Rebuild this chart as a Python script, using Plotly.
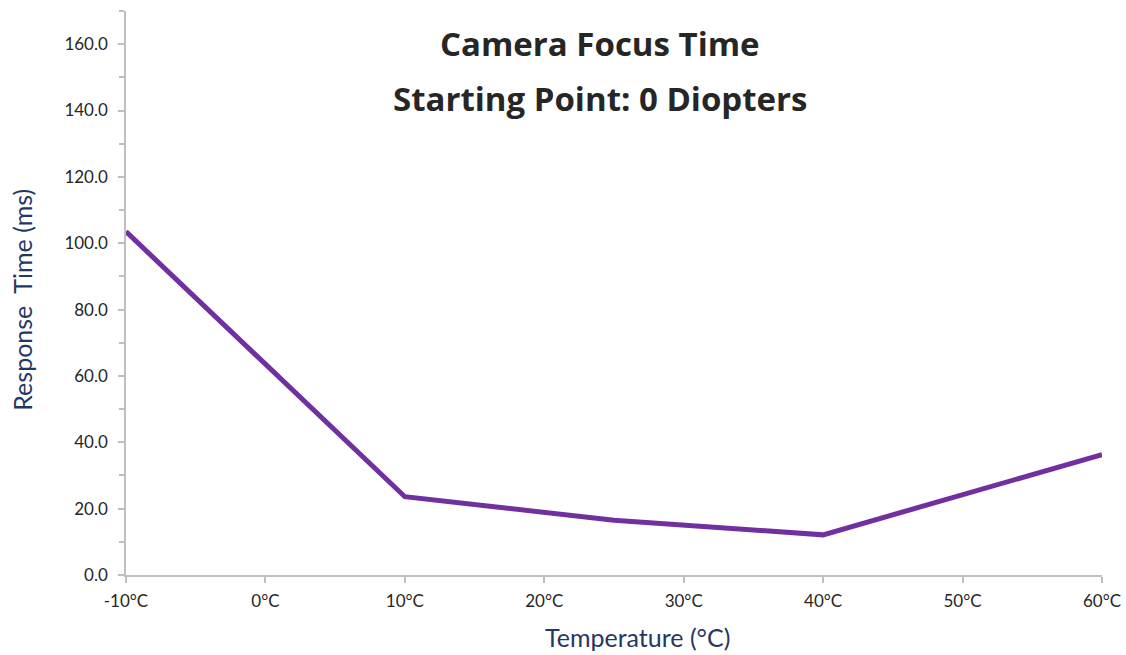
import plotly.graph_objects as go

temps = [-10, 10, 25, 40, 60]
response_ms = [103.5, 23.6, 16.5, 12.1, 36.3]
x_ticks = [-10, 0, 10, 20, 30, 40, 50, 60]
x_tick_labels = ["-10°C", "0°C", "10°C", "20°C", "30°C", "40°C", "50°C", "60°C"]
y_ticks = [0, 20, 40, 60, 80, 100, 120, 140, 160]
y_tick_labels = ["0.0", "20.0", "40.0", "60.0", "80.0", "100.0", "120.0", "140.0", "160.0"]

title_line1 = "<b>Camera Focus Time</b>"
title_line2 = "<b>Starting Point: 0 Diopters</b>"
x_title = "Temperature (°C)"
y_title = "Response  Time (ms)"

fig = go.Figure()
fig.add_trace(go.Scatter(
    x=temps, y=response_ms, mode="lines",
    line=dict(color="#7030A0", width=5),
    showlegend=False, hoverinfo="x+y",
))

axis_color = "#BFBFBF"
tick_font = dict(family="Lato, Open Sans, sans-serif", size=17, color="#262626")

fig.update_xaxes(
    range=[-10, 60], tickvals=x_ticks, ticktext=x_tick_labels,
    showline=True, linecolor=axis_color, linewidth=1.5,
    ticks="outside", ticklen=6, tickcolor=axis_color, tickwidth=1.5,
    ticklabelstandoff=4, automargin=False,
    showgrid=False, zeroline=False, tickfont=tick_font,
)
fig.update_yaxes(
    range=[0, 170], tickvals=y_ticks, ticktext=y_tick_labels,
    showline=True, linecolor=axis_color, linewidth=1.5,
    ticks="outside", ticklen=6, tickcolor=axis_color, tickwidth=1.5,
    ticklabelstandoff=7, automargin=False,
    minor=dict(dtick=10, tick0=0, ticks="outside", ticklen=5, tickcolor=axis_color, tickwidth=1.5, showgrid=False),
    showgrid=False, zeroline=False, tickfont=tick_font,
)

title_font = dict(family="Open Sans, Noto Sans, sans-serif", size=33, color="#262626")
fig.add_annotation(
    text=title_line1, xref="paper", yref="paper", x=0.486, y=0.942,
    xanchor="center", yanchor="middle", showarrow=False, font=title_font,
)
fig.add_annotation(
    text=title_line2, xref="paper", yref="paper", x=0.486, y=0.845,
    xanchor="center", yanchor="middle", showarrow=False, font=title_font,
)
fig.add_annotation(
    text=x_title, xref="paper", yref="paper", x=0.5236, y=-0.1107,
    xanchor="center", yanchor="middle", showarrow=False,
    font=dict(family="Lato, Open Sans, sans-serif", size=25, color="#1F3864"),
)
fig.add_annotation(
    text=y_title, xref="paper", yref="paper", x=-0.1066, y=0.488,
    xanchor="center", yanchor="middle", showarrow=False, textangle=-90,
    font=dict(family="Lato, Open Sans, sans-serif", size=25, color="#1F3864"),
)

fig.update_layout(
    width=1126, height=655,
    margin=dict(l=126, r=24, t=11, b=80),
    paper_bgcolor="white", plot_bgcolor="white",
)

fig.write_html("out.html", config={"displayModeBar": False},
               post_script="document.body.style.margin='0';")
